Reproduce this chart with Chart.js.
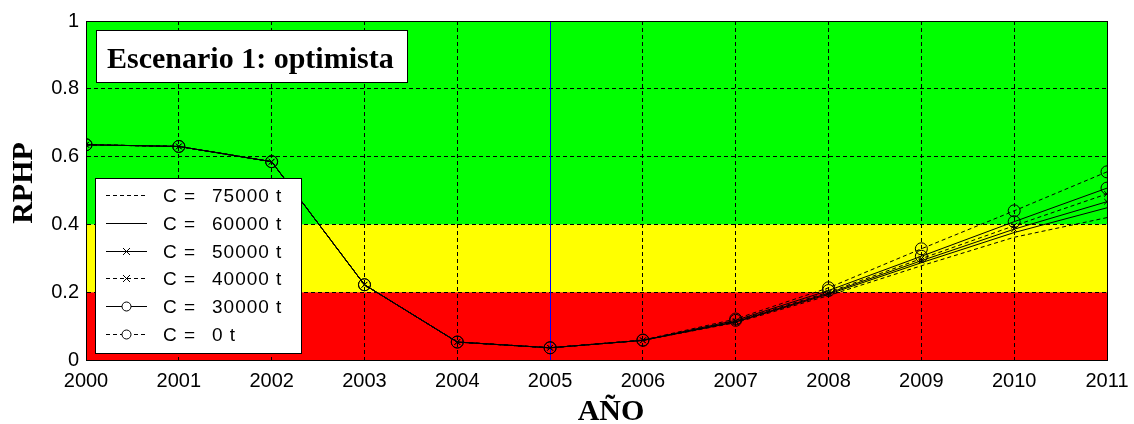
<!DOCTYPE html>
<html>
<head>
<meta charset="utf-8">
<script src="https://cdn.jsdelivr.net/npm/chart.js@4.4.1/dist/chart.umd.min.js"></script>
<style>
  html, body { margin: 0; padding: 0; background: #ffffff; }
  #c { display: block; }
</style>
</head>
<body>
<canvas id="c" width="1134" height="424"></canvas>
<script>
// ---- data ----
const years = [2000, 2001, 2002, 2003, 2004, 2005, 2006, 2007, 2008, 2009, 2010, 2011];
const xTickLabels = ['2000','2001','2002','2003','2004','2005','2006','2007','2008','2009','2010','2011'];
const yTickLabels = ['0', '0.2', '0.4', '0.6', '0.8', '1'];
const historic = [0.635, 0.630, 0.585, 0.222, 0.053, 0.036];
const proj75000 = [0.058, 0.110, 0.190, 0.278, 0.362, 0.420];
const proj60000 = [0.058, 0.112, 0.194, 0.287, 0.376, 0.449];
const proj50000 = [0.058, 0.113, 0.197, 0.293, 0.386, 0.467];
const proj40000 = [0.058, 0.115, 0.200, 0.299, 0.396, 0.490];
const proj30000 = [0.058, 0.117, 0.205, 0.306, 0.408, 0.507];
const proj0     = [0.059, 0.121, 0.213, 0.328, 0.440, 0.555];
const seriesNames = ['75000 t', '60000 t', '50000 t', '40000 t', '30000 t', '0 t'];
const zoneBounds = [0, 0.2, 0.4, 1];
const zoneColors = ['#ff0000', '#ffff00', '#00ff00'];
const titleText = 'Escenario 1: optimista';
const yTitle = 'RPHP';
const xTitle = 'AÑO';
const currentYear = 2005;

function pts(proj) {
  const vals = historic.concat(proj);
  return years.map((y, i) => ({ x: y, y: vals[i] }));
}

const dashed = [4, 3];
const styles = [
  { dash: dashed, point: false },
  { dash: [], point: false },
  { dash: [], point: 'crossRot' },
  { dash: dashed, point: 'crossRot' },
  { dash: [], point: 'circle' },
  { dash: dashed, point: 'circle' }
];
const projs = [proj75000, proj60000, proj50000, proj40000, proj30000, proj0];

const datasets = projs.map((p, i) => ({
  label: 'C = ' + seriesNames[i],
  data: pts(p),
  borderColor: '#000000',
  backgroundColor: 'rgba(0,0,0,0)',
  borderWidth: 1,
  borderDash: styles[i].dash,
  pointStyle: styles[i].point || 'circle',
  pointRadius: styles[i].point ? (styles[i].point === 'circle' ? 6 : 4) : 0,
  pointBorderColor: '#000000',
  pointBackgroundColor: 'rgba(0,0,0,0)',
  pointBorderWidth: 1,
  tension: 0
}));

const SERIF = '"Liberation Serif", "Times New Roman", serif';
const SANS = '"Liberation Sans", Arial, sans-serif';

const decorPlugin = {
  id: 'decor',
  beforeDraw(chart) {
    const { ctx, chartArea: a, scales: { y } } = chart;
    ctx.save();
    for (let i = 0; i < zoneColors.length; i++) {
      const top = y.getPixelForValue(zoneBounds[i + 1]);
      const bot = y.getPixelForValue(zoneBounds[i]);
      ctx.fillStyle = zoneColors[i];
      ctx.fillRect(a.left, top, a.right - a.left, bot - top);
    }
    ctx.restore();
  },
  beforeDatasetsDraw(chart) {
    const { ctx, chartArea: a, scales: { x } } = chart;
    const px = Math.round(x.getPixelForValue(currentYear)) + 0.5;
    ctx.save();
    ctx.strokeStyle = '#0000ff';
    ctx.lineWidth = 1;
    ctx.beginPath();
    ctx.moveTo(px, a.top);
    ctx.lineTo(px, a.bottom);
    ctx.stroke();
    ctx.restore();
  },
  afterDraw(chart) {
    const { ctx, chartArea: a } = chart;
    ctx.save();
    // plot box
    ctx.strokeStyle = '#000000';
    ctx.lineWidth = 1;
    ctx.setLineDash([]);
    ctx.strokeRect(Math.round(a.left) + 0.5, Math.round(a.top) + 0.5,
      Math.round(a.right - a.left), Math.round(a.bottom - a.top));

    // title box
    ctx.fillStyle = '#ffffff';
    ctx.fillRect(96.5, 30.5, 311, 52);
    ctx.strokeRect(96.5, 30.5, 311, 52);
    ctx.fillStyle = '#000000';
    ctx.font = 'bold 30px ' + SERIF;
    ctx.textAlign = 'left';
    ctx.textBaseline = 'alphabetic';
    ctx.fillText(titleText, 107, 68);

    // legend box
    const lx = 95.5, ly = 178.5, lw = 206, lh = 175;
    ctx.fillStyle = '#ffffff';
    ctx.fillRect(lx, ly, lw, lh);
    ctx.strokeStyle = '#000000';
    ctx.strokeRect(lx, ly, lw, lh);
    chart.data.datasets.forEach((ds, i) => {
      const cy = Math.round(195 + i * 27.8) + 0.5;
      ctx.save();
      ctx.strokeStyle = '#000000';
      ctx.lineWidth = 1;
      ctx.setLineDash(ds.borderDash || []);
      ctx.beginPath();
      ctx.moveTo(106, cy);
      ctx.lineTo(147, cy);
      ctx.stroke();
      ctx.setLineDash([]);
      if (ds.pointRadius > 0) {
        if (ds.pointStyle === 'circle') {
          ctx.beginPath();
          ctx.arc(126.5, cy, 4.5, 0, Math.PI * 2);
          ctx.fillStyle = '#ffffff';
          ctx.fill();
          ctx.stroke();
        } else {
          const r = 3.5;
          ctx.beginPath();
          ctx.moveTo(126.5 - r, cy - r); ctx.lineTo(126.5 + r, cy + r);
          ctx.moveTo(126.5 - r, cy + r); ctx.lineTo(126.5 + r, cy - r);
          ctx.stroke();
        }
      }
      ctx.restore();
      ctx.fillStyle = '#000000';
      ctx.font = '19px ' + SANS;
      ctx.textBaseline = 'middle';
      ctx.textAlign = 'left';
      try { ctx.letterSpacing = '1px'; } catch (e) {}
      ctx.fillText('C =', 163, cy + 1);
      ctx.fillText(seriesNames[i], 212, cy + 1);
      try { ctx.letterSpacing = '0px'; } catch (e) {}
    });

    // axis titles
    ctx.fillStyle = '#000000';
    ctx.font = 'bold 30px ' + SERIF;
    ctx.textAlign = 'center';
    ctx.textBaseline = 'alphabetic';
    ctx.fillText(xTitle, 611, 420);
    ctx.save();
    ctx.translate(32, 183);
    ctx.rotate(-Math.PI / 2);
    ctx.fillText(yTitle, 0, 0);
    ctx.restore();
    ctx.restore();
  }
};

new Chart(document.getElementById('c'), {
  type: 'line',
  data: { datasets },
  options: {
    responsive: false,
    devicePixelRatio: 1,
    animation: false,
    layout: { padding: { top: 21, right: 27, left: 0, bottom: 0 } },
    plugins: { legend: { display: false }, tooltip: { enabled: false } },
    scales: {
      x: {
        type: 'linear',
        min: 2000, max: 2011,
        afterFit(s) { s.height = 64; s.paddingLeft = 0; s.paddingRight = 0; },
        afterBuildTicks(s) { s.ticks = years.map(v => ({ value: v })); },
        ticks: {
          color: '#000000',
          font: { family: SANS, size: 20 },
          padding: 9,
          maxRotation: 0,
          autoSkip: false,
          callback: (v) => xTickLabels[years.indexOf(v)]
        },
        grid: { color: '#000000', lineWidth: 1, drawTicks: false },
        border: { display: true, color: '#000000', dash: [4, 3] }
      },
      y: {
        min: 0, max: 1,
        afterFit(s) { s.width = 86; s.paddingTop = 0; s.paddingBottom = 0; },
        ticks: {
          stepSize: 0.2,
          color: '#000000',
          font: { family: SANS, size: 20 },
          padding: 7,
          callback: (v) => yTickLabels[Math.round(v * 5)]
        },
        grid: { color: '#000000', lineWidth: 1, drawTicks: false },
        border: { display: true, color: '#000000', dash: [4, 3] }
      }
    }
  },
  plugins: [decorPlugin]
});
</script>
</body>
</html>
